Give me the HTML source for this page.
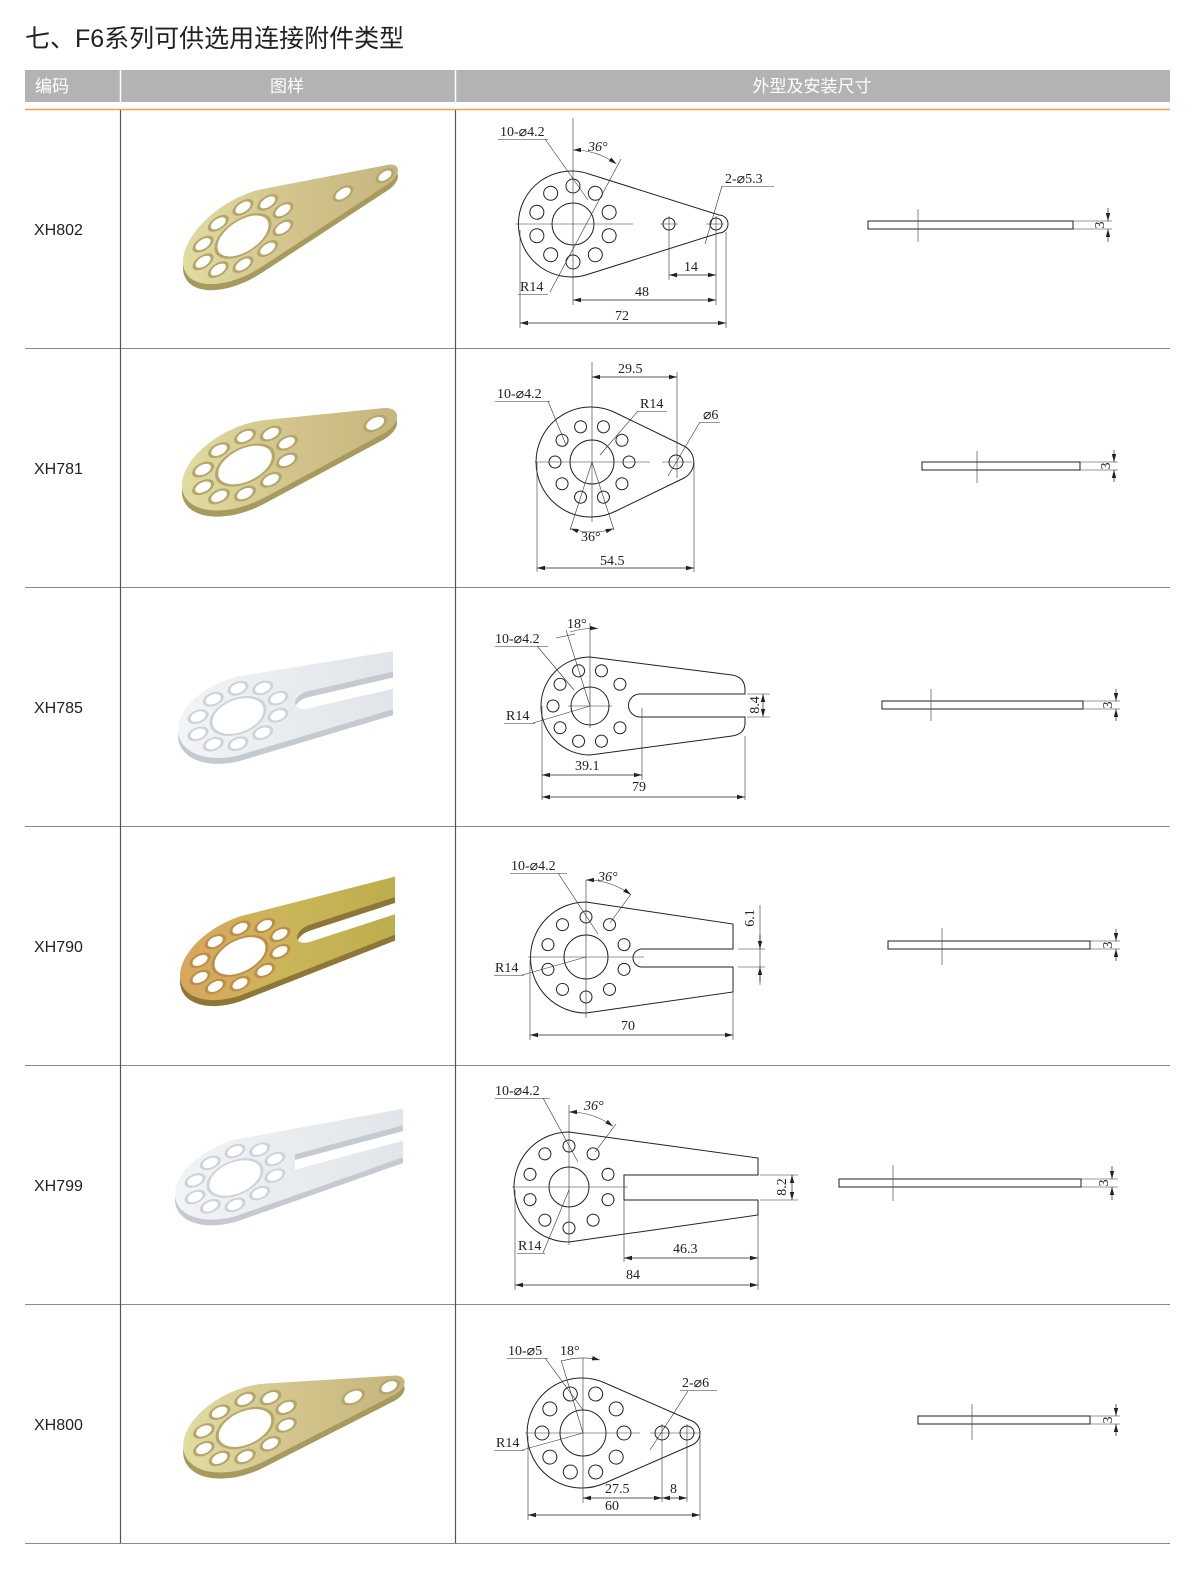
<!DOCTYPE html>
<html><head><meta charset="utf-8"><style>
html,body{margin:0;padding:0;background:#fff;}
svg{display:block;}
.t{font-family:"Liberation Serif",serif;font-size:14px;fill:#222;}
.c{font-family:"Liberation Sans","Noto Sans CJK SC",sans-serif;}
.d{fill:none;stroke:#222;stroke-width:1;}
.th{fill:none;stroke:#333;stroke-width:0.6;}
.dm{fill:none;stroke:#222;stroke-width:0.7;marker-start:url(#ar);marker-end:url(#ar);}
.h{fill:#fff;stroke:#222;stroke-width:1;}
</style></head><body>
<svg width="1200" height="1574" viewBox="0 0 1200 1574" xmlns="http://www.w3.org/2000/svg">
<defs>
<marker id="ar" markerWidth="8" markerHeight="6" refX="8" refY="3" orient="auto-start-reverse" markerUnits="userSpaceOnUse"><path d="M0,0.8 L8,3 L0,5.2z" fill="#222"/></marker>
<linearGradient id="gold" x1="0" x2="1" y1="0" y2="0"><stop offset="0" stop-color="#e0dca2"/><stop offset="0.5" stop-color="#d2c48c"/><stop offset="1" stop-color="#c6b57e"/></linearGradient>
<linearGradient id="orng" x1="0" x2="1" y1="0" y2="0"><stop offset="0" stop-color="#d8a65c"/><stop offset="0.5" stop-color="#cbb55a"/><stop offset="1" stop-color="#bcae4c"/></linearGradient>
<linearGradient id="silv" x1="0" x2="1" y1="0" y2="0"><stop offset="0" stop-color="#f2f4f6"/><stop offset="1" stop-color="#e1e5e9"/></linearGradient>
<path id="tear140" d="M19.3,-56.8 L144.8,-14.2 A15 15 0 0 1 144.8,14.2 L19.3,56.8 A60 60 0 1 1 19.3,-56.8Z"/>
<path id="tear125" d="M19.2,-56.8 L131.4,-18.9 A20 20 0 0 1 131.4,18.9 L19.2,56.8 A60 60 0 1 1 19.2,-56.8Z"/>
<path id="forkA" d="M0,-60 L155,-44 L155,-13 L70,-13 A13 13 0 0 0 70,13 L155,13 L155,44 L0,60 A60 60 0 0 1 0,-60Z"/>
<path id="forkB" d="M0,-60 L168,-38 L168,-12 L60,-12 L60,12 L168,12 L168,38 L0,60 A60 60 0 0 1 0,-60Z"/>
<g id="ring10">
<circle cx="0" cy="-42" r="9" transform="rotate(0)"/><circle cx="0" cy="-42" r="9" transform="rotate(36)"/><circle cx="0" cy="-42" r="9" transform="rotate(72)"/><circle cx="0" cy="-42" r="9" transform="rotate(108)"/><circle cx="0" cy="-42" r="9" transform="rotate(144)"/><circle cx="0" cy="-42" r="9" transform="rotate(180)"/><circle cx="0" cy="-42" r="9" transform="rotate(216)"/><circle cx="0" cy="-42" r="9" transform="rotate(252)"/><circle cx="0" cy="-42" r="9" transform="rotate(288)"/><circle cx="0" cy="-42" r="9" transform="rotate(324)"/>
<circle cx="0" cy="0" r="27"/>
</g>
</defs>

<text x="25" y="47" class="c" font-size="25" fill="#222">七、F6系列可供选用连接附件类型</text>
<rect x="25" y="70" width="1145" height="32" fill="#b3b3b3"/>
<line x1="120.5" y1="70" x2="120.5" y2="102" stroke="#fff" stroke-width="1.5"/>
<line x1="455.5" y1="70" x2="455.5" y2="102" stroke="#fff" stroke-width="1.5"/>
<text x="35" y="92" class="c" font-size="17" fill="#fff">编码</text>
<text x="287" y="92" class="c" font-size="17" fill="#fff" text-anchor="middle">图样</text>
<text x="812" y="92" class="c" font-size="17" fill="#fff" text-anchor="middle">外型及安装尺寸</text>
<line x1="25" y1="109.5" x2="1170" y2="109.5" stroke="#f2a247" stroke-width="1.5"/>
<g stroke="#8a8a8a" stroke-width="1">
<line x1="25" y1="348.5" x2="1170" y2="348.5"/><line x1="25" y1="587.5" x2="1170" y2="587.5"/>
<line x1="25" y1="826.5" x2="1170" y2="826.5"/><line x1="25" y1="1065.5" x2="1170" y2="1065.5"/>
<line x1="25" y1="1304.5" x2="1170" y2="1304.5"/><line x1="25" y1="1543.5" x2="1170" y2="1543.5"/>
</g>
<g stroke="#555" stroke-width="1.2">
<line x1="120.5" y1="110" x2="120.5" y2="1543"/><line x1="455.5" y1="110" x2="455.5" y2="1543"/>
</g>
<g class="c" font-size="16" fill="#222">
<text x="34" y="235">XH802</text><text x="34" y="474">XH781</text><text x="34" y="713">XH785</text>
<text x="34" y="952">XH790</text><text x="34" y="1191">XH799</text><text x="34" y="1430">XH800</text>
</g>

<!-- PHOTOS -->
<g transform="translate(243,236) skewY(-23) scale(1,0.68)">
<use href="#tear140" transform="translate(0,9)" fill="#a69a5c"/>
<use href="#tear140" fill="url(#gold)"/>
<g fill="#fff" stroke="#b5a66a" stroke-width="3"><use href="#ring10"/><circle cx="100" cy="0" r="9"/><circle cx="142" cy="0" r="8"/></g>
</g>
<g transform="translate(245,465) skewY(-17.7) scale(1.05,0.68)">
<use href="#tear125" transform="translate(0,9)" fill="#a69a5c"/>
<use href="#tear125" fill="url(#gold)"/>
<g fill="#fff" stroke="#b5a66a" stroke-width="3"><use href="#ring10"/><circle cx="124" cy="0" r="10"/></g>
</g>
<g transform="translate(238,716) skewY(-13) scale(1,0.66)">
<use href="#forkA" transform="translate(0,9)" fill="#c4cad0"/>
<use href="#forkA" fill="url(#silv)"/>
<g fill="#fff" stroke="#cdd3d8" stroke-width="3"><use href="#ring10"/></g>
</g>
<g transform="translate(240,956) skewY(-18) scale(1,0.66)">
<use href="#forkA" transform="translate(0,9)" fill="#8e7638"/>
<use href="#forkA" fill="url(#orng)"/>
<g fill="#fff" stroke="#c08d48" stroke-width="3"><use href="#ring10"/></g>
</g>
<g transform="translate(235,1178) skewY(-15) scale(1,0.64)">
<use href="#forkB" transform="translate(0,9)" fill="#c4cad0"/>
<use href="#forkB" fill="url(#silv)"/>
<g fill="#fff" stroke="#cdd3d8" stroke-width="3"><use href="#ring10"/></g>
</g>
<g transform="translate(245,1428) skewY(-16) scale(1.03,0.68)">
<use href="#tear140" transform="translate(0,9)" fill="#a69a5c"/>
<use href="#tear140" fill="url(#gold)"/>
<g fill="#fff" stroke="#b5a66a" stroke-width="3"><use href="#ring10"/><circle cx="105" cy="0" r="10"/><circle cx="140" cy="0" r="9"/></g>
</g>

<!-- DRAWINGS row1 -->
<g>
<path class="d" d="M589,174 L719,215 A9 9 0 0 1 719,233 L589,274 A53 53 0 1 1 589,174 Z"/>
<circle class="d" cx="573" cy="224" r="21"/>
<g transform="translate(573,224)" class="h">
<circle cx="0" cy="-38" r="7"/><circle cx="0" cy="-38" r="7" transform="rotate(36)"/><circle cx="0" cy="-38" r="7" transform="rotate(72)"/><circle cx="0" cy="-38" r="7" transform="rotate(108)"/><circle cx="0" cy="-38" r="7" transform="rotate(144)"/><circle cx="0" cy="-38" r="7" transform="rotate(180)"/><circle cx="0" cy="-38" r="7" transform="rotate(216)"/><circle cx="0" cy="-38" r="7" transform="rotate(252)"/><circle cx="0" cy="-38" r="7" transform="rotate(288)"/><circle cx="0" cy="-38" r="7" transform="rotate(324)"/>
</g>
<circle class="d" cx="669" cy="224" r="6"/><circle class="d" cx="716" cy="224" r="6"/>
<g class="th">
<line x1="515" y1="224" x2="633" y2="224"/><line x1="573" y1="118" x2="573" y2="305"/>
<line x1="660" y1="224" x2="678" y2="224"/><line x1="706" y1="224" x2="724" y2="224"/>
<line x1="520" y1="230" x2="520" y2="328"/><line x1="726" y1="232" x2="726" y2="328"/>
<line x1="716" y1="216" x2="716" y2="305"/><line x1="669" y1="216" x2="669" y2="280"/>
<line x1="498" y1="139.5" x2="548" y2="139.5"/><line x1="545" y1="139" x2="588" y2="200"/>
<line x1="550" y1="292" x2="621" y2="159"/><line x1="518" y1="294.5" x2="548" y2="294.5"/>
<line x1="722" y1="186.5" x2="774" y2="186.5"/><line x1="722" y1="186" x2="705" y2="244"/>
</g>
<path class="th" d="M573,150 A74 74 0 0 1 616.5,164" marker-end="url(#ar)" marker-start="url(#ar)"/>
<line class="dm" x1="669" y1="275" x2="716" y2="275"/>
<line class="dm" x1="573" y1="300" x2="716" y2="300"/>
<line class="dm" x1="520" y1="323" x2="726" y2="323"/>
<text class="t" x="500" y="136">10-⌀4.2</text>
<text class="t" x="588" y="151" font-style="italic">36°</text>
<text class="t" x="725" y="183">2-⌀5.3</text>
<text class="t" x="520" y="291">R14</text>
<text class="t" x="684" y="271">14</text>
<text class="t" x="635" y="296">48</text>
<text class="t" x="615" y="320">72</text>
<rect class="d" x="868" y="221" width="205" height="8"/>
<g class="th"><line x1="918" y1="209" x2="918" y2="242"/><line x1="1073" y1="221" x2="1112" y2="221"/><line x1="1073" y1="229" x2="1112" y2="229"/></g>
<line class="dm" x1="1108" y1="208" x2="1108" y2="221" style="marker-start:none"/><line class="dm" x1="1108" y1="242" x2="1108" y2="229" style="marker-start:none"/>
<text class="t" transform="translate(1104,225) rotate(-90)" text-anchor="middle">3</text>
</g>

<!-- row2 -->
<g>
<path class="d" d="M616,413 L684,446 A18 18 0 0 1 684,478 L616,511 A55 55 0 1 1 616,413 Z"/>
<circle class="d" cx="592" cy="462" r="22"/>
<g transform="translate(592,462)" class="h">
<circle cx="0" cy="-37" r="6" transform="rotate(18)"/><circle cx="0" cy="-37" r="6" transform="rotate(54)"/><circle cx="0" cy="-37" r="6" transform="rotate(90)"/><circle cx="0" cy="-37" r="6" transform="rotate(126)"/><circle cx="0" cy="-37" r="6" transform="rotate(162)"/><circle cx="0" cy="-37" r="6" transform="rotate(198)"/><circle cx="0" cy="-37" r="6" transform="rotate(234)"/><circle cx="0" cy="-37" r="6" transform="rotate(270)"/><circle cx="0" cy="-37" r="6" transform="rotate(306)"/><circle cx="0" cy="-37" r="6" transform="rotate(342)"/>
</g>
<circle class="d" cx="676" cy="462" r="7"/>
<g class="th">
<line x1="535" y1="462" x2="650" y2="462"/><line x1="592" y1="362" x2="592" y2="522"/>
<line x1="662" y1="462" x2="692" y2="462"/><line x1="677" y1="372" x2="677" y2="478"/>
<line x1="537" y1="462" x2="537" y2="572"/><line x1="694" y1="462" x2="694" y2="572"/>
<line x1="495" y1="401.5" x2="550" y2="401.5"/><line x1="548" y1="401" x2="566" y2="445"/>
<line x1="638" y1="411.5" x2="667" y2="411.5"/><line x1="638" y1="411" x2="600" y2="455"/>
<line x1="700" y1="422.5" x2="720" y2="422.5"/><line x1="700" y1="422" x2="668" y2="476"/>
<line x1="592" y1="462" x2="570" y2="530"/><line x1="592" y1="462" x2="614" y2="530"/>
</g>
<path class="th" d="M570.4,528.6 A70 70 0 0 0 613.6,528.6" marker-end="url(#ar)" marker-start="url(#ar)"/>
<line class="dm" x1="592" y1="377" x2="677" y2="377"/>
<line class="dm" x1="537" y1="568" x2="694" y2="568"/>
<text class="t" x="618" y="373">29.5</text>
<text class="t" x="497" y="398">10-⌀4.2</text>
<text class="t" x="640" y="408">R14</text>
<text class="t" x="703" y="419">⌀6</text>
<text class="t" x="581" y="541">36°</text>
<text class="t" x="600" y="565">54.5</text>
<rect class="d" x="922" y="462" width="158" height="8"/>
<g class="th"><line x1="977" y1="451" x2="977" y2="483"/><line x1="1080" y1="462" x2="1118" y2="462"/><line x1="1080" y1="470" x2="1118" y2="470"/></g>
<line class="dm" x1="1114" y1="450" x2="1114" y2="462" style="marker-start:none"/><line class="dm" x1="1114" y1="482" x2="1114" y2="470" style="marker-start:none"/>
<text class="t" transform="translate(1110,466) rotate(-90)" text-anchor="middle">3</text>
</g>

<!-- row3 -->
<g>
<path class="d" d="M590,657 L732,675 Q745,677 745,690 L745,694 L640,694 A11.5 11.5 0 0 0 640,717 L745,717 L745,723 Q745,734 732,736 L590,755 A49 49 0 0 1 590,657 Z"/>
<circle class="d" cx="590" cy="706" r="19"/>
<g transform="translate(590,706)" class="h">
<circle cx="0" cy="-37" r="6" transform="rotate(18)"/><circle cx="0" cy="-37" r="6" transform="rotate(54)"/><circle cx="0" cy="-37" r="6" transform="rotate(126)"/><circle cx="0" cy="-37" r="6" transform="rotate(162)"/><circle cx="0" cy="-37" r="6" transform="rotate(198)"/><circle cx="0" cy="-37" r="6" transform="rotate(234)"/><circle cx="0" cy="-37" r="6" transform="rotate(270)"/><circle cx="0" cy="-37" r="6" transform="rotate(306)"/><circle cx="0" cy="-37" r="6" transform="rotate(342)"/>
</g>
<g class="th">
<line x1="568" y1="706" x2="612" y2="706"/><line x1="590" y1="623" x2="590" y2="728"/>
<line x1="542" y1="706" x2="542" y2="800"/><line x1="642" y1="708" x2="642" y2="780"/><line x1="745" y1="736" x2="745" y2="800"/>
<line x1="747" y1="694" x2="770" y2="694"/><line x1="747" y1="717" x2="770" y2="717"/>
<line x1="495" y1="646.5" x2="548" y2="646.5"/><line x1="537" y1="646" x2="574" y2="690"/>
<line x1="556" y1="638" x2="575" y2="634"/><line x1="590" y1="706" x2="566" y2="630"/>
<line x1="504" y1="723.5" x2="535" y2="723.5"/><line x1="533" y1="723" x2="590" y2="706"/>
</g>
<path class="th" d="M570,632 A78 78 0 0 1 598,628.5" marker-end="url(#ar)"/>
<line class="dm" x1="542" y1="775" x2="642" y2="775"/>
<line class="dm" x1="542" y1="797" x2="745" y2="797"/>
<line class="dm" x1="763" y1="694" x2="763" y2="717"/>
<text class="t" x="495" y="643">10-⌀4.2</text>
<text class="t" x="567" y="628" font-size="12">18°</text>
<text class="t" x="506" y="720">R14</text>
<text class="t" x="575" y="770">39.1</text>
<text class="t" x="632" y="791">79</text>
<text class="t" transform="translate(759,705) rotate(-90)" text-anchor="middle">8.4</text>
<rect class="d" x="882" y="701" width="201" height="8"/>
<g class="th"><line x1="931" y1="689" x2="931" y2="721"/><line x1="1083" y1="701" x2="1120" y2="701"/><line x1="1083" y1="709" x2="1120" y2="709"/></g>
<line class="dm" x1="1116" y1="689" x2="1116" y2="701" style="marker-start:none"/><line class="dm" x1="1116" y1="721" x2="1116" y2="709" style="marker-start:none"/>
<text class="t" transform="translate(1112,705) rotate(-90)" text-anchor="middle">3</text>
</g>

<!-- row4 -->
<g>
<path class="d" d="M586,902 L733,924 L733,949 L642,949 A9 9 0 0 0 642,967 L733,967 L733,992 L586,1013 A55.5 55.5 0 0 1 586,902 Z"/>
<circle class="d" cx="586" cy="957" r="22"/>
<g transform="translate(586,957)" class="h">
<circle cx="0" cy="-40" r="6"/><circle cx="0" cy="-40" r="6" transform="rotate(36)"/><circle cx="0" cy="-40" r="6" transform="rotate(72)"/><circle cx="0" cy="-40" r="6" transform="rotate(108)"/><circle cx="0" cy="-40" r="6" transform="rotate(144)"/><circle cx="0" cy="-40" r="6" transform="rotate(180)"/><circle cx="0" cy="-40" r="6" transform="rotate(216)"/><circle cx="0" cy="-40" r="6" transform="rotate(252)"/><circle cx="0" cy="-40" r="6" transform="rotate(288)"/><circle cx="0" cy="-40" r="6" transform="rotate(324)"/>
</g>
<g class="th">
<line x1="528" y1="957" x2="644" y2="957"/><line x1="586" y1="880" x2="586" y2="1018"/>
<line x1="530" y1="960" x2="530" y2="1040"/><line x1="733" y1="992" x2="733" y2="1040"/>
<line x1="738" y1="949" x2="765" y2="949"/><line x1="738" y1="967" x2="765" y2="967"/>
<line x1="510" y1="873.5" x2="567" y2="873.5"/><line x1="558" y1="873" x2="598" y2="934"/>
<line x1="631" y1="894" x2="610" y2="923"/>
<line x1="494" y1="975.5" x2="524" y2="975.5"/><line x1="522" y1="975" x2="586" y2="957"/>
</g>
<path class="th" d="M586,880 A77 77 0 0 1 631,894.7" marker-end="url(#ar)" marker-start="url(#ar)"/>
<line class="dm" x1="530" y1="1035" x2="733" y2="1035"/>
<line class="th" x1="760" y1="905" x2="760" y2="985"/>
<line class="dm" x1="760" y1="935" x2="760" y2="949" style="marker-start:none"/><line class="dm" x1="760" y1="982" x2="760" y2="967" style="marker-start:none"/>
<text class="t" x="511" y="870">10-⌀4.2</text>
<text class="t" x="598" y="881" font-style="italic">36°</text>
<text class="t" x="495" y="972">R14</text>
<text class="t" x="621" y="1030">70</text>
<text class="t" transform="translate(754,918) rotate(-90)" text-anchor="middle">6.1</text>
<rect class="d" x="888" y="941" width="202" height="8"/>
<g class="th"><line x1="942" y1="928" x2="942" y2="965"/><line x1="1090" y1="941" x2="1120" y2="941"/><line x1="1090" y1="949" x2="1120" y2="949"/></g>
<line class="dm" x1="1116" y1="929" x2="1116" y2="941" style="marker-start:none"/><line class="dm" x1="1116" y1="961" x2="1116" y2="949" style="marker-start:none"/>
<text class="t" transform="translate(1112,945) rotate(-90)" text-anchor="middle">3</text>
</g>

<!-- row5 -->
<g>
<path class="d" d="M569,1132 L758,1158 L758,1175 L624,1175 L624,1200 L758,1200 L758,1215 L569,1242 A55 55 0 0 1 569,1132 Z"/>
<circle class="d" cx="569" cy="1187" r="20"/>
<g transform="translate(569,1187)" class="h">
<circle cx="0" cy="-41" r="6"/><circle cx="0" cy="-41" r="6" transform="rotate(36)"/><circle cx="0" cy="-41" r="6" transform="rotate(72)"/><circle cx="0" cy="-41" r="6" transform="rotate(108)"/><circle cx="0" cy="-41" r="6" transform="rotate(144)"/><circle cx="0" cy="-41" r="6" transform="rotate(180)"/><circle cx="0" cy="-41" r="6" transform="rotate(216)"/><circle cx="0" cy="-41" r="6" transform="rotate(252)"/><circle cx="0" cy="-41" r="6" transform="rotate(288)"/><circle cx="0" cy="-41" r="6" transform="rotate(324)"/>
</g>
<g class="th">
<line x1="512" y1="1187" x2="628" y2="1187"/><line x1="569" y1="1105" x2="569" y2="1245"/>
<line x1="515" y1="1190" x2="515" y2="1290"/><line x1="758" y1="1215" x2="758" y2="1290"/><line x1="624" y1="1200" x2="624" y2="1262"/>
<line x1="760" y1="1175" x2="798" y2="1175"/><line x1="760" y1="1200" x2="798" y2="1200"/>
<line x1="495" y1="1098.5" x2="550" y2="1098.5"/><line x1="543" y1="1098" x2="578" y2="1162"/>
<line x1="616" y1="1124" x2="595" y2="1152"/>
<line x1="517" y1="1253.5" x2="545" y2="1253.5"/><line x1="543" y1="1253" x2="569" y2="1190"/>
</g>
<path class="th" d="M569,1112 A75 75 0 0 1 613,1126.3" marker-end="url(#ar)" marker-start="url(#ar)"/>
<line class="dm" x1="624" y1="1258" x2="758" y2="1258"/>
<line class="dm" x1="515" y1="1285" x2="758" y2="1285"/>
<line class="dm" x1="792" y1="1175" x2="792" y2="1200"/>
<text class="t" x="495" y="1095">10-⌀4.2</text>
<text class="t" x="584" y="1110" font-style="italic">36°</text>
<text class="t" x="518" y="1250">R14</text>
<text class="t" x="673" y="1253">46.3</text>
<text class="t" x="626" y="1279">84</text>
<text class="t" transform="translate(786,1187) rotate(-90)" text-anchor="middle">8.2</text>
<rect class="d" x="839" y="1179" width="242" height="8"/>
<g class="th"><line x1="893" y1="1165" x2="893" y2="1201"/><line x1="1081" y1="1179" x2="1118" y2="1179"/><line x1="1081" y1="1187" x2="1118" y2="1187"/></g>
<line class="dm" x1="1112" y1="1166" x2="1112" y2="1179" style="marker-start:none"/><line class="dm" x1="1112" y1="1200" x2="1112" y2="1187" style="marker-start:none"/>
<text class="t" transform="translate(1108,1183) rotate(-90)" text-anchor="middle">3</text>
</g>

<!-- row6 -->
<g>
<path class="d" d="M605,1383 L692,1421 A13 13 0 0 1 692,1445 L605,1483 A55 55 0 1 1 605,1383 Z"/>
<circle class="d" cx="583" cy="1433" r="23"/>
<g transform="translate(583,1433)" class="h">
<circle cx="0" cy="-41" r="7" transform="rotate(18)"/><circle cx="0" cy="-41" r="7" transform="rotate(54)"/><circle cx="0" cy="-41" r="7" transform="rotate(90)"/><circle cx="0" cy="-41" r="7" transform="rotate(126)"/><circle cx="0" cy="-41" r="7" transform="rotate(162)"/><circle cx="0" cy="-41" r="7" transform="rotate(198)"/><circle cx="0" cy="-41" r="7" transform="rotate(234)"/><circle cx="0" cy="-41" r="7" transform="rotate(270)"/><circle cx="0" cy="-41" r="7" transform="rotate(306)"/><circle cx="0" cy="-41" r="7" transform="rotate(342)"/>
</g>
<circle class="d" cx="662" cy="1433" r="7"/><circle class="d" cx="687" cy="1433" r="7"/>
<g class="th">
<line x1="525" y1="1433" x2="640" y2="1433"/><line x1="583" y1="1358" x2="583" y2="1503"/>
<line x1="650" y1="1433" x2="700" y2="1433"/>
<line x1="528" y1="1436" x2="528" y2="1520"/><line x1="662" y1="1424" x2="662" y2="1502"/><line x1="687" y1="1424" x2="687" y2="1502"/><line x1="700" y1="1436" x2="700" y2="1520"/>
<line x1="507" y1="1358.5" x2="548" y2="1358.5"/><line x1="545" y1="1358" x2="583" y2="1410"/>
<line x1="583" y1="1433" x2="561" y2="1360"/>
<line x1="680" y1="1390.5" x2="717" y2="1390.5"/><line x1="688" y1="1391" x2="650" y2="1450"/>
<line x1="494" y1="1450.5" x2="524" y2="1450.5"/><line x1="522" y1="1450" x2="583" y2="1433"/>
</g>
<path class="th" d="M562,1361 A75 75 0 0 1 600,1360" marker-end="url(#ar)"/>
<line class="dm" x1="583" y1="1498" x2="662" y2="1498"/>
<line class="dm" x1="662" y1="1498" x2="687" y2="1498"/>
<line class="dm" x1="528" y1="1515" x2="700" y2="1515"/>
<text class="t" x="508" y="1355">10-⌀5</text>
<text class="t" x="560" y="1355">18°</text>
<text class="t" x="682" y="1387">2-⌀6</text>
<text class="t" x="496" y="1447">R14</text>
<text class="t" x="605" y="1493">27.5</text>
<text class="t" x="670" y="1493">8</text>
<text class="t" x="605" y="1510">60</text>
<rect class="d" x="918" y="1416" width="172" height="8"/>
<g class="th"><line x1="972" y1="1404" x2="972" y2="1440"/><line x1="1090" y1="1416" x2="1120" y2="1416"/><line x1="1090" y1="1424" x2="1120" y2="1424"/></g>
<line class="dm" x1="1116" y1="1404" x2="1116" y2="1416" style="marker-start:none"/><line class="dm" x1="1116" y1="1436" x2="1116" y2="1424" style="marker-start:none"/>
<text class="t" transform="translate(1112,1420) rotate(-90)" text-anchor="middle">3</text>
</g>
</svg>
</body></html>
